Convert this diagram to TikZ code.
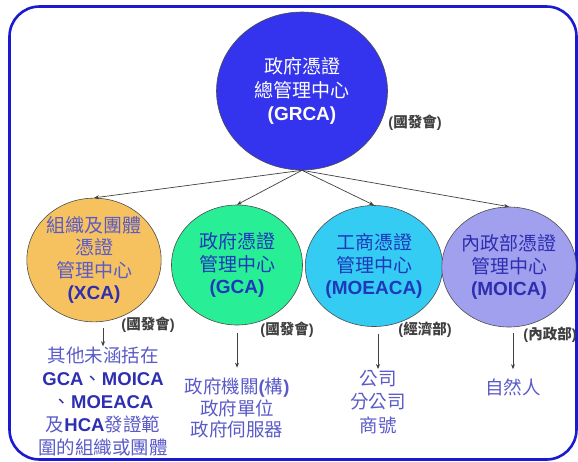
\documentclass[tikz,border=0pt]{standalone}
\usepackage{fontspec}
\setmainfont{Liberation Sans}
\newfontfamily\cjk{Noto Sans CJK TC}
\usetikzlibrary{shapes.geometric, arrows.meta}
\definecolor{framec}{RGB}{26,26,208}
\definecolor{grcac}{RGB}{52,52,238}
\definecolor{xcac}{RGB}{246,194,96}
\definecolor{gcac}{RGB}{40,238,150}
\definecolor{moeacac}{RGB}{52,204,242}
\definecolor{moicac}{RGB}{160,160,238}
\definecolor{inkc}{RGB}{30,56,188}
\definecolor{usec}{RGB}{90,90,200}
\definecolor{boldc}{RGB}{46,46,176}
\newcommand{\lat}[1]{{\rmfamily\bfseries #1}}
\newcommand{\hl}[1]{\textcolor{boldc}{\lat{#1}}}
\tikzset{
	ca/.style = {ellipse, draw = black!70, line width = 0.6pt, inner sep = 0pt, minimum width = 130pt, minimum height = 120pt, align = center, font = \fontsize{19}{22.5}\selectfont\cjk},
	org/.style = {inner sep = 0pt, text = black!75, font = \fontsize{14.5}{16}\selectfont\cjk\bfseries},
	use/.style = {align = center, inner sep = 0pt, text = usec, font = \fontsize{18.5}{23}\selectfont\cjk},
	link/.style = {draw = black!75, line width = 0.7pt, -{Stealth[length = 5pt, width = 4pt]}}
}
\begin{document}
\begin{tikzpicture}[x = 1pt, y = -1pt]
		\useasboundingbox (0, 0) rectangle (578, 461);
		\draw[framec, line width = 2.6pt, rounded corners = 30pt] (9.5, 6.5) rectangle (576.5, 459.5);
		\node[ca, fill = grcac, text = white, minimum width = 171pt, minimum height = 158pt, font = \fontsize{19}{23.5}\selectfont\cjk] (grca) at (302, 91) {政府憑證\\總管理中心\\\lat{(GRCA)}};
		\node[ca, fill = xcac, text = usec, minimum width = 132pt] (xca) at (94, 260) {組織及團體\\憑證\\管理中心\\\hl{(XCA)}};
		\node[ca, fill = gcac, text = inkc, minimum width = 131pt] (gca) at (237, 265) {政府憑證\\管理中心\\\lat{(GCA)}};
		\node[ca, fill = moeacac, text = inkc, minimum height = 121pt] (moeaca) at (374, 266) {工商憑證\\管理中心\\\lat{(MOEACA)}};
		\node[ca, fill = moicac, text = boldc] (moica) at (509, 267) {內政部憑證\\管理中心\\\lat{(MOICA)}};
		\node[org] (grcaorg) at (415, 123) {\lat{(}國發會\lat{)}};
		\node[org] (xcaorg) at (148, 325) {\lat{(}國發會\lat{)}};
		\node[org] (gcaorg) at (287, 330) {\lat{(}國發會\lat{)}};
		\node[org] (moeacaorg) at (425, 330) {\lat{(}經濟部\lat{)}};
		\node[org] (moicaorg) at (550, 335) {\lat{(}內政部\lat{)}};
		\node[use] (xcause) at (103, 401) {其他未涵括在\\\hl{GCA}\textcolor{boldc}{、}\hl{MOICA}\\\textcolor{boldc}{、}\hl{MOEACA}\\及\hl{HCA}發證範\\圍的組織或團體};
		\node[use, font = \fontsize{18.5}{21.5}\selectfont\cjk] (gcause) at (237, 408) {政府機關\lat{(}構\lat{)}\\政府單位\\政府伺服器};
		\node[use, font = \fontsize{18.5}{23.5}\selectfont\cjk] (moeacause) at (378, 402) {公司\\分公司\\商號};
		\node[use] (moicause) at (513, 387) {自然人};
		\foreach \ca in {xca, gca, moeaca, moica}
			\draw[link] (grca.south) -- (\ca.north);
		\draw[link, shorten < = 6pt] (xca.south -| xcause.north) -- (xcause.north);
		\draw[link, shorten < = 8pt, shorten > = 10pt] (gca.south -| gcause.north) -- (gcause.north);
		\draw[link, shorten < = 7pt, shorten > = 1pt] (moeaca.south -| moeacause.north) -- (moeacause.north);
		\draw[link, shorten < = 6pt, shorten > = 9pt] (moica.south -| moicause.north) -- (moicause.north);
	\end{tikzpicture}
\end{document}
